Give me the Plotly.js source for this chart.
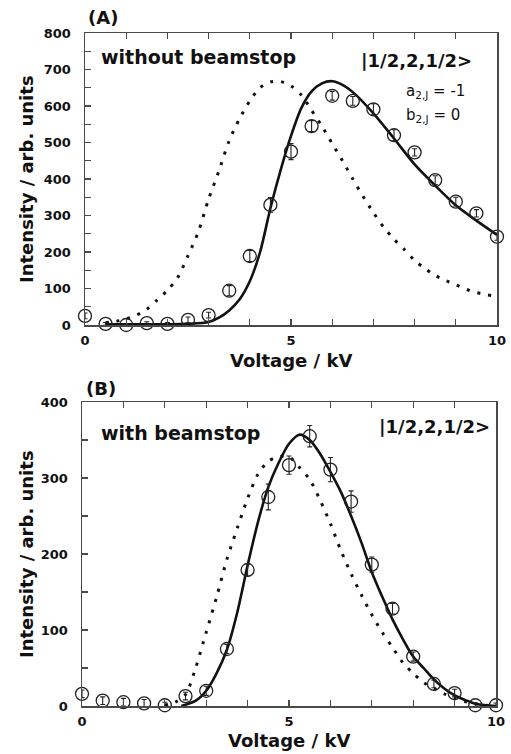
<!DOCTYPE html>
<html>
<head>
<meta charset="utf-8">
<script src="https://cdn.plot.ly/plotly-3.0.1.min.js"></script>
<style>html,body{margin:0;padding:0;background:#fff;}#chart{width:511px;height:754px;}</style>
</head>
<body>
<div id="chart"></div>
<script>
// ---- Panel (A): without beamstop ----
const voltA = [0,0.5,1,1.5,2,2.5,3,3.5,4,4.5,5,5.5,6,6.5,7,7.5,8,8.5,9,9.5,10];
const intA  = [25,3,0,5,3,14,27,94,189,329,475,545,628,614,591,520,473,397,338,306,242];
const errA  = [8,4,4,4,4,8,8,14,15,20,22,15,12,12,15,15,10,12,12,10,10];

const fitAx = [0.5,1,1.5,2,2.5,3,3.25,3.5,3.75,4,4.25,4.5,4.75,5,5.25,5.5,5.75,6,6.25,6.5,7,7.5,8,8.5,9,9.5,10];
const fitAy = [2,2,2,2,3,8,20,40,70,120,200,320,425,518,594,640,662,668,658,638,580,511,440,382,328,286,247];

const dotAx = [0.5,0.75,1,1.25,1.5,1.75,2,2.25,2.5,2.75,3,3.25,3.5,3.75,4,4.25,4.5,4.75,5,5.25,5.5,5.75,6,6.25,6.5,6.75,7,7.25,7.5,7.75,8,8.25,8.5,8.75,9,9.25,9.5,9.75,10];
const dotAy = [7,10,17,27,43,68,95,130,190,255,345,422,505,565,614,650,666,667,655,630,588,545,497,450,400,352,308,268,235,207,177,155,136,122,110,98,89,83,78];

// ---- Panel (B): with beamstop ----
const voltB = [0,0.5,1,1.5,2,2.5,3,3.5,4,4.5,5,5.5,6,6.5,7,7.5,8,8.5,9,9.5,10];
const intB  = [16,7,5,3.5,1,13,20,75,179,275,317,355,311,269,186,128,65,29,17,1,1];
const errB  = [5,5,5,5,4,5,6,6,8,17,12,14,16,14,10,7,6,5,5,3,3];

const fitBx = [2.4,2.75,3,3.25,3.5,3.75,4,4.25,4.5,4.75,5,5.25,5.5,5.75,6,6.25,6.5,6.75,7,7.25,7.5,7.75,8,8.25,8.5,8.75,9,9.25,9.5,9.75,10];
const fitBy = [0,7,20,43,74,123,185,242,288,320,345,357,350,332,308,282,250,215,176,144,114,88,65,50,35,23,14,8,3,1,0];

const dotBx = [2,2.25,2.5,2.75,3,3.25,3.5,3.75,4,4.25,4.5,4.75,5,5.25,5.5,5.75,6,6.25,6.5,6.75,7,7.25,7.5,7.75,8,8.25,8.5,8.75,9,9.25,9.5,9.75,10];
const dotBy = [1,5,15,51,97,143,193,234,273,305,322,328,328,314,298,271,240,205,174,146,120,97,77,57,43,31,23,16,10,6,3,1,0];

const tickLabelsX = ['0','5','10'];

const INK = '#111';
const AX = '#4a4a4a';
const FONT = 'DejaVu Sans';

function dotted(x, y, xa, ya) {
  return {x, y, xaxis: xa, yaxis: ya, type: 'scatter', mode: 'lines',
    line: {color: INK, width: 3, dash: '3px,8px', shape: 'spline', smoothing: 0.8},
    hoverinfo: 'skip', cliponaxis: false};
}
function solid(x, y, xa, ya) {
  return {x, y, xaxis: xa, yaxis: ya, type: 'scatter', mode: 'lines',
    line: {color: INK, width: 2.6, shape: 'spline', smoothing: 0.8},
    hoverinfo: 'skip', cliponaxis: false};
}
function pts(x, y, e, xa, ya) {
  return {x, y, xaxis: xa, yaxis: ya, type: 'scatter', mode: 'markers',
    marker: {symbol: 'circle-open', size: 13, color: '#222', line: {width: 1.3, color: '#222'}},
    error_y: {type: 'data', array: e, visible: true, width: 2.5, thickness: 1.1, color: '#222'},
    cliponaxis: false};
}

const data = [
  dotted(dotAx, dotAy, 'x', 'y'),
  solid(fitAx, fitAy, 'x', 'y'),
  pts(voltA, intA, errA, 'x', 'y'),
  dotted(dotBx, dotBy, 'x2', 'y2'),
  solid(fitBx, fitBy, 'x2', 'y2'),
  pts(voltB, intB, errB, 'x2', 'y2')
];

function xAxis(domain, anchor) {
  return {domain, anchor, range: [0, 10], tickmode: 'array', tickvals: [0,5,10], ticktext: tickLabelsX,
    ticks: 'inside', ticklen: 6, tickwidth: 1.2, tickcolor: AX,
    minor: {tickmode: 'linear', tick0: 0, dtick: 1, ticks: 'inside', ticklen: 6, tickwidth: 1.2, tickcolor: AX},
    showline: true, linecolor: AX, linewidth: 1.5, mirror: 'ticks',
    showgrid: false, zeroline: false, ticklabelstandoff: 3,
    tickfont: {family: FONT, size: 13, weight: 'bold', color: INK}, fixedrange: true};
}
function yAxis(domain, anchor, max) {
  return {domain, anchor, range: [0, max], dtick: 100, tick0: 0,
    ticks: 'inside', ticklen: 6, tickwidth: 1.2, tickcolor: AX,
    minor: {dtick: 50, ticks: 'inside', ticklen: 6, tickwidth: 1.2, tickcolor: AX},
    showline: true, linecolor: AX, linewidth: 1.5, mirror: true,
    showgrid: false, zeroline: false, ticklabelstandoff: 10,
    tickfont: {family: FONT, size: 13, weight: 'bold', color: INK}, fixedrange: true};
}

const W = 511, H = 754;
const px = v => v / W;
const py = v => (H - v) / H;

const bold = (s) => ({family: FONT, size: s, weight: 'bold', color: INK});

function note(text, x, y, xanchor, font, extra) {
  return Object.assign({text, x: px(x), y: py(y), xref: 'paper', yref: 'paper',
    xanchor, yanchor: 'middle', showarrow: false, font}, extra || {});
}

const layout = {
  width: W, height: H,
  margin: {l: 0, r: 0, t: 0, b: 0},
  paper_bgcolor: '#fff', plot_bgcolor: '#fff',
  showlegend: false,
  xaxis: xAxis([px(85), px(497)], 'y'),
  yaxis: yAxis([py(325), py(33)], 'x', 800),
  xaxis2: xAxis([px(82), px(496)], 'y2'),
  yaxis2: yAxis([py(706), py(402)], 'x2', 400),
  annotations: [
    note('(A)', 103, 17, 'center', bold(18)),
    note('without beamstop', 99, 57, 'left', bold(19)),
    note('|1/2,2,1/2>', 474, 60, 'right', bold(18)),
    note('a<sub>2,J</sub> = -1', 404, 92, 'left', {family: FONT, size: 15, color: INK}),
    note('b<sub>2,J</sub> = 0', 404, 115, 'left', {family: FONT, size: 15, color: INK}),
    note('Intensity / arb. units', 26, 179, 'center', bold(18), {textangle: -90}),
    note('Voltage / kV', 291, 360, 'center', bold(18)),

    note('(B)', 101, 388, 'center', bold(18)),
    note('with beamstop', 99, 433, 'left', bold(19)),
    note('|1/2,2,1/2>', 492, 426, 'right', bold(18)),
    note('Intensity / arb. units', 26, 554, 'center', bold(18), {textangle: -90}),
    note('Voltage / kV', 289, 740, 'center', bold(18))
  ]
};

Plotly.newPlot('chart', data, layout, {staticPlot: true, displayModeBar: false});
</script>
</body>
</html>
